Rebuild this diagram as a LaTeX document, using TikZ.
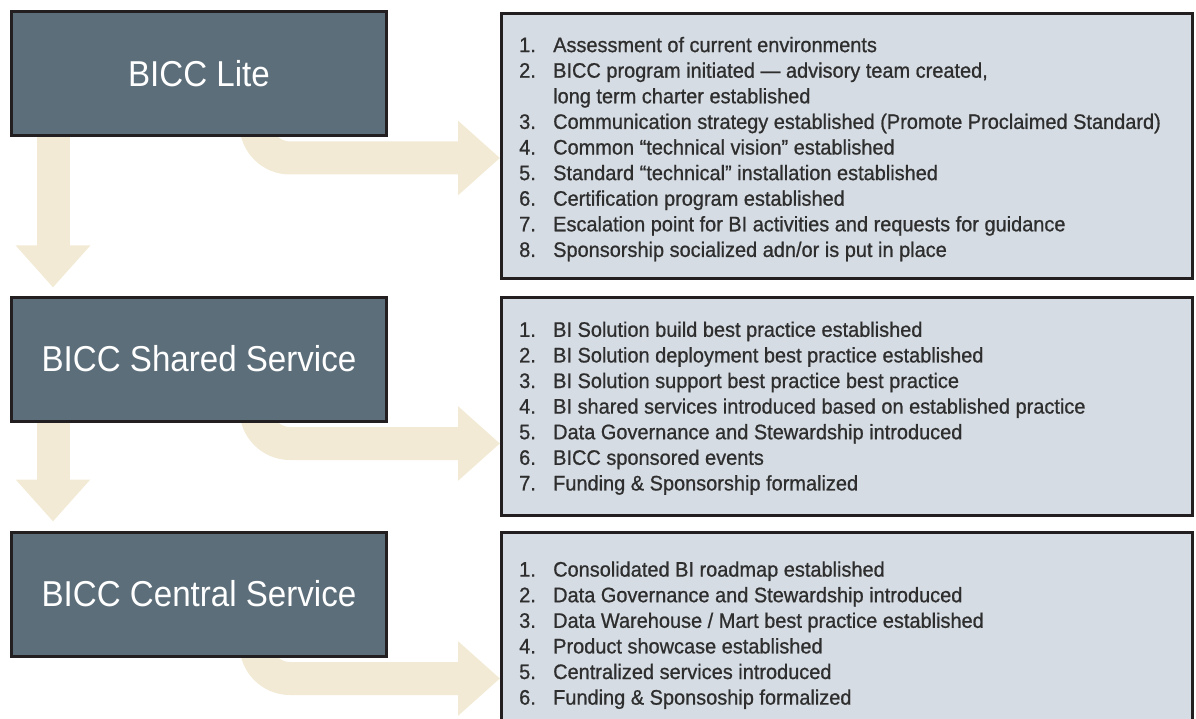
\documentclass[tikz,border=0pt]{standalone}
\usepackage{fontspec}
\setmainfont{Liberation Sans}
\newfontfamily\titlefont[FakeStretch=0.92]{Liberation Sans}
\newfontfamily\listfont[FakeStretch=0.95,FakeBold=0.8]{Liberation Sans}
\usetikzlibrary{arrows.meta,backgrounds}

\definecolor{slate}{HTML}{5C6E7A}
\definecolor{mist}{HTML}{D5DCE3}
\definecolor{sand}{HTML}{F2EAD4}
\definecolor{ink}{HTML}{231F20}

\tikzset{
  stage/.style={draw=ink, line width=3pt, fill=slate, minimum width=375pt,
    minimum height=124pt, text=white, font=\titlefont\fontsize{36}{40}\selectfont},
  panel/.style={draw=ink, line width=3pt, fill=mist, minimum width=691pt},
  items/.style={anchor=north west, inner sep=0pt, text=black!82,
    font=\listfont\fontsize{21}{25.6}\selectfont},
  flow/.style={draw=sand, line width=33pt, -{Triangle[width=72pt,length=42pt]}},
}

\begin{document}
\begin{tikzpicture}[x=1pt,y=1pt]
  \useasboundingbox (0,0) rectangle (1196,-719);

  % Stages
  \node[stage] (lite) at (199,-73.5) {BICC Lite};
  \node[stage] (shared) at (199,-359) {BICC Shared Service};
  \node[stage] (central) at (199,-594) {BICC Central Service};

  % Panels
  \node[panel, minimum height=265pt] (panel1) at (847,-146) {};
  \node[panel, minimum height=218pt] (panel2) at (847,-406.5) {};
  \node[panel, minimum height=200pt, anchor=north] (panel3) at (847,-530.5) {};

  % Lists
  \node[items] (list1) at ([xshift=19pt,yshift=-22pt]panel1.north west) {%
    \begin{tabular}{@{}p{34pt}@{}l@{}}
    1. & Assessment of current environments\\
    2. & BICC program initiated — advisory team created,\\
       & long term charter established\\
    3. & Communication strategy established (Promote Proclaimed Standard)\\
    4. & Common “technical vision” established\\
    5. & Standard “technical” installation established\\
    6. & Certification program established\\
    7. & Escalation point for BI activities and requests for guidance\\
    8. & Sponsorship socialized adn/or is put in place
    \end{tabular}};
  \node[items] (list2) at ([xshift=19pt,yshift=-22.7pt]panel2.north west) {%
    \begin{tabular}{@{}p{34pt}@{}l@{}}
    1. & BI Solution build best practice established\\
    2. & BI Solution deployment best practice established\\
    3. & BI Solution support best practice best practice\\
    4. & BI shared services introduced based on established practice\\
    5. & Data Governance and Stewardship introduced\\
    6. & BICC sponsored events\\
    7. & Funding \& Sponsorship formalized
    \end{tabular}};
  \node[items] (list3) at ([xshift=19pt,yshift=-28pt]panel3.north west) {%
    \begin{tabular}{@{}p{34pt}@{}l@{}}
    1. & Consolidated BI roadmap established\\
    2. & Data Governance and Stewardship introduced\\
    3. & Data Warehouse / Mart best practice established\\
    4. & Product showcase established\\
    5. & Centralized services introduced\\
    6. & Funding \& Sponsoship formalized
    \end{tabular}};

  % Arrows
  \coordinate (bend1) at ([yshift=-21pt]lite.south);
  \coordinate (bend2) at ([yshift=-21pt]shared.south);
  \coordinate (bend3) at ([yshift=-21pt]central.south);
  \begin{scope}[on background layer]
    \draw[flow] ([xshift=43pt]lite.south west) -- ([xshift=43pt,yshift=8pt]shared.north west);
    \draw[flow] ([xshift=43pt]shared.south west) -- ([xshift=43pt,yshift=9pt]central.north west);
    \draw[flow, rounded corners=34pt] ([xshift=246pt,yshift=20pt]lite.south west) |- (bend1 -| panel1.west);
    \draw[flow, rounded corners=34pt] ([xshift=246pt,yshift=20pt]shared.south west) |- (bend2 -| panel2.west);
    \draw[flow, rounded corners=34pt] ([xshift=246pt,yshift=20pt]central.south west) |- (bend3 -| panel3.west);
  \end{scope}
\end{tikzpicture}
\end{document}
